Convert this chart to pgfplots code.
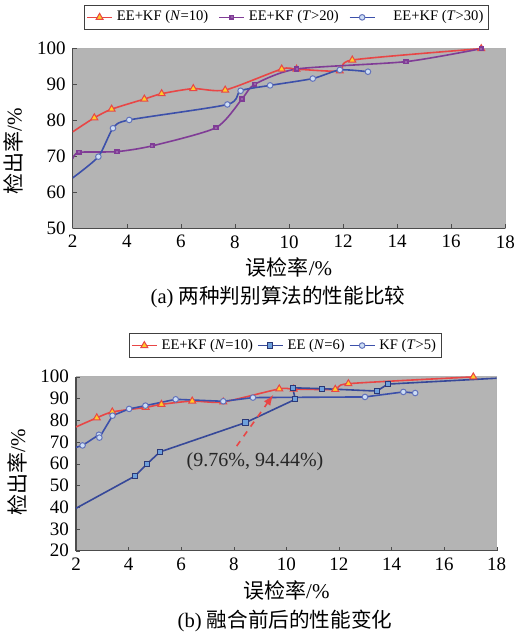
\documentclass[border=0pt]{standalone}
\usepackage{fontspec}
\setmainfont{Liberation Serif}
\newfontfamily\cjk{Noto Sans CJK SC}
\usepackage{pgfplots}
\pgfplotsset{compat=1.18}
\definecolor{bg}{RGB}{180,180,180}
\definecolor{cred}{RGB}{232,70,70}
\definecolor{cblue}{RGB}{60,80,170}
\definecolor{cpurple}{RGB}{128,60,150}
\definecolor{cyell}{RGB}{255,205,40}
\definecolor{csq}{RGB}{110,160,220}
\definecolor{ccir}{RGB}{205,222,245}
\pgfplotsset{
 common/.style={
  scale only axis,
  axis lines*=left,
  axis line style={draw=black!70, line width=0.6pt},
  axis background/.style={fill=bg, draw=black!30},
  xmin=2, xmax=18, xtick={2,4,...,18},
  tick pos=left, tick align=inside, major tick length=2pt,
  tick style={black!70},
  tick label style={font=\fontsize{9.5}{10}\selectfont},
  /pgf/number format/assume math mode=true,
  xlabel={{\cjk 误检率}/\%}, ylabel={{\cjk 检出率}/\%},
  label style={font=\fontsize{10.5}{11}\selectfont},
  xlabel style={yshift=2pt},
  legend style={font=\fontsize{7.3}{8}\selectfont, draw=black!75, line width=0.5pt,
     inner sep=0.8pt, anchor=center, /tikz/every even column/.append style={column sep=1pt}},
  legend columns=3, legend cell align=left,
  legend image code/.code={\draw[mark indices={2}] plot coordinates {(0cm,0cm) (0.22cm,0cm) (0.44cm,0cm)};},
 },
 redl/.style={cred, line width=0.8pt, smooth, tension=0.4, mark=triangle*, mark size=2pt,
   mark options={fill=cyell, draw=cred, line width=0.5pt, solid}},
 purl/.style={cpurple, line width=0.8pt, smooth, tension=0.4, mark=square*, mark size=0.9pt,
   mark options={fill=cpurple!80, draw=cpurple, solid}},
 bcirc/.style={cblue, line width=0.8pt, mark=*, mark size=1.4pt,
   mark options={fill=ccir, draw=cblue!80, line width=0.5pt, solid}},
 bsq/.style={cblue!90!black, line width=0.8pt, mark=square*, mark size=1.3pt,
   mark options={fill=csq, draw=cblue!70!black, line width=0.5pt, solid}},
}
\begin{document}
\begin{tikzpicture}
\useasboundingbox (0,0) rectangle (258.5pt,-318.5pt);
\begin{axis}[common,
  at={(36.35pt,-114.15pt)}, anchor=south west, width=216.3pt, height=90pt,
  ymin=50, ymax=100, ytick={50,60,...,100},
  ylabel style={at={(ticklabel cs:0.43)}},
  legend style={at={(0.495,1.172)}, /tikz/every even column/.append style={column sep=3pt}},
]
\addplot[redl, mark indices={2,...,12}] coordinates {(2,76.8) (2.80,80.7) (3.44,83.1) (4.65,85.9) (5.29,87.4) (6.46,88.8) (7.64,88.4) (9.73,94.25) (10.28,94.2) (11.88,93.7) (12.34,96.75) (17.11,99.9)};
\addlegendentry{EE+KF (\textit{N}=10)}
\addplot[purl, mark indices={2,...,10}] coordinates {(2,69.3) (2.23,71.1) (3.64,71.3) (4.94,72.9) (7.30,77.95) (8.26,85.9) (8.73,90.0) (10.28,94.25) (14.33,96.3) (17.11,99.9)};
\addlegendentry{EE+KF (\textit{T}>20)}
\addplot[bcirc, smooth, tension=0.4, mark indices={2,...,10}] coordinates {(2,64) (2.95,69.9) (3.49,77.8) (4.09,80.1) (7.72,84.4) (8.21,88.2) (9.30,89.7) (10.88,91.6) (11.88,94.0) (12.92,93.5)};
\addlegendentry{\hspace{7pt}EE+KF (\textit{T}>30)}
\end{axis}
\node[font=\fontsize{10.3}{11}\selectfont] at (139pt,-148.5pt) {(a) {\cjk 两种判别算法的性能比较}};
\begin{axis}[common,
  at={(38pt,-275.35pt)}, anchor=south west, width=210.35pt, height=87pt,
  ymin=20, ymax=100, ytick={20,30,...,100},
  ylabel style={at={(ticklabel cs:0.45)}},
  legend style={at={(0.498,1.179)}, /tikz/every even column/.append style={column sep=0pt}},
]
\addplot[redl, mark indices={2,...,12}] coordinates {(2,76.9) (2.79,81.1) (3.38,83.8) (4.65,85.9) (5.25,87.3) (6.42,88.8) (7.6,88.4) (9.73,94.4) (10.28,94.3) (11.86,94.2) (12.36,96.8) (17.11,99.9)};
\addlegendentry{EE+KF (\textit{N}=10)}
\addplot[bsq, mark indices={2,...,10}] coordinates {(2,39.5) (4.24,54.3) (4.70,59.9) (5.19,65.4) (8.45,78.9) (10.34,89.6) (10.24,94.9) (11.37,94.5) (13.44,93.4) (13.86,96.6) (18,99.3)};
\addlegendentry{EE (\textit{N}=6)}
\addplot[bcirc, mark indices={2,...,13}] coordinates {(2,67.5) (2.25,68.4) (2.87,73.3) (2.89,72.0) (3.39,82.1) (4.02,85.2) (4.64,86.7) (5.79,89.6) (7.6,88.7) (8.73,90.4) (12.99,90.7) (14.45,93.0) (14.9,92.5)};
\addlegendentry{KF (\textit{T}>5)}
\draw[cred, dashed, line width=0.8pt, -latex] (axis cs:8.11,68.1) -- (axis cs:9.5,91.6);
\node[font=\fontsize{10}{11}\selectfont, text=black!85] at (axis cs:8.81,60.9) {(9.76\%, 94.44\%)};
\end{axis}
\node[font=\fontsize{10.3}{11}\selectfont] at (142.5pt,-310.5pt) {(b) {\cjk 融合前后的性能变化}};
\end{tikzpicture}
\end{document}
